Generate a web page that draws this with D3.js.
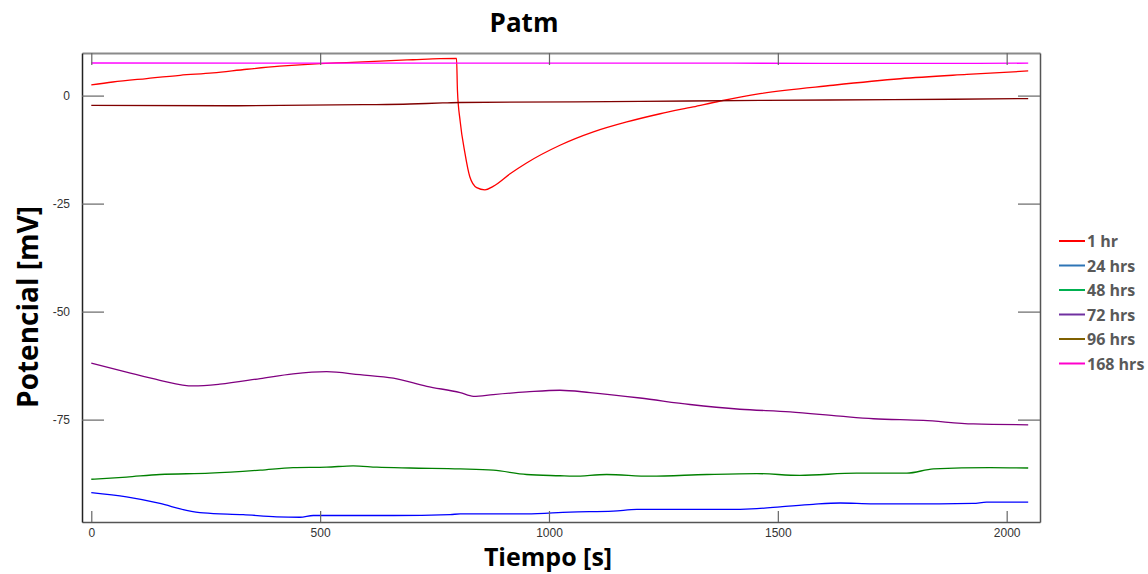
<!DOCTYPE html>
<html>
<head>
<meta charset="utf-8">
<script src="https://cdn.jsdelivr.net/npm/d3@7"></script>
<style>
  body { margin: 0; background: #fff; }
  svg { display: block; }
</style>
</head>
<body>
<div id="chart"></div>
<script>
// series: [tiempo (s), potencial (mV)]
const hr1 = [[0,2.5],[47,3.15],[121,3.95],[194,4.7],[266,5.25],[340,6.1],[412,6.8],[500,7.4],[558,7.65],
  [631,8.0],[703,8.3],[762,8.55],[798,8.6],[800,1.2],[806,-6],[816,-13.1],[827,-18.8],[842,-21.3],
  [860,-21.8],[878,-21.0],[915,-18.1],[951,-15.6],[1024,-11.5],[1097,-8.4],[1170,-6.1],[1243,-4.2],
  [1315,-2.6],[1374,-1.25],[1461,0.45],[1621,2.4],[1767,3.9],[1913,4.9],[2047,5.7]];
const hrs24 = [[0,-91.9],[77,-92.9],[150,-94.4],[208,-96.0],[245,-96.6],[332,-97.0],[405,-97.5],[456,-97.6],
  [485,-97.2],[660,-97.2],[784,-97.0],[806,-96.8],[951,-96.8],[1046,-96.4],[1140,-96.2],[1192,-95.8],
  [1381,-95.8],[1454,-95.6],[1505,-95.2],[1577,-94.6],[1636,-94.3],[1709,-94.5],[1854,-94.5],
  [1927,-94.4],[1956,-94.1],[2047,-94.1]];
const hrs48 = [[0,-88.8],[77,-88.3],[150,-87.7],[259,-87.4],[369,-86.7],[441,-86.1],[514,-86.0],[572,-85.7],
  [624,-86.0],[696,-86.2],[806,-86.4],[878,-86.7],[951,-87.7],[1024,-88.0],[1053,-88.1],[1126,-87.7],
  [1221,-88.1],[1345,-87.7],[1454,-87.5],[1548,-87.9],[1672,-87.4],[1782,-87.4],[1840,-86.4],
  [1963,-86.1],[2047,-86.2]];
const hrs72 = [[0,-61.9],[77,-64.0],[150,-65.9],[223,-67.2],[281,-66.8],[369,-65.5],[441,-64.4],[514,-63.9],
  [587,-64.6],[660,-65.4],[733,-67.3],[806,-68.75],[835,-69.6],[878,-69.2],[951,-68.6],[1024,-68.2],
  [1090,-68.75],[1199,-70.0],[1308,-71.5],[1417,-72.6],[1527,-73.2],[1636,-74.2],[1709,-74.8],
  [1818,-75.2],[1927,-76.0],[2047,-76.2]];
const hrs96 = [[0,-2.25],[300,-2.35],[593,-2.1],[696,-1.95],[768,-1.7],[806,-1.6],[1200,-1.35],
  [1461,-1.1],[1750,-0.95],[2047,-0.7]];
const hrs168 = [[0,7.55],[800,7.5],[1400,7.5],[1800,7.45],[2047,7.5]];

const seriesNames = ["1 hr", "24 hrs", "48 hrs", "72 hrs", "96 hrs", "168 hrs"];
const seriesData = [hr1, hrs24, hrs48, hrs72, hrs96, hrs168];
const lineColors = ["#ff0000", "#0000ff", "#008000", "#800080", "#800000", "#ff00ff"];
const legendColors = ["#ff0000", "#2e75b6", "#00b050", "#7030a0", "#7f6000", "#ff00cc"];
const xTicks = [0, 500, 1000, 1500, 2000];
const yTicks = [0, -25, -50, -75];

const W = 1148, H = 574;
const margin = {top: 53, right: 108, bottom: 52, left: 82};
const width = W - margin.left - margin.right;
const height = H - margin.top - margin.bottom;

const svg = d3.select("#chart")
    .append("svg")
    .attr("width", W)
    .attr("height", H);

const g = svg.append("g")
    .attr("transform", `translate(${margin.left},${margin.top})`);

const x = d3.scaleLinear().domain([-20.3, 2072.8]).range([0, width]);
const y = d3.scaleLinear().domain([-98.7, 9.86]).range([height, 0]);

// lines first, frame on top
const line = d3.line()
    .x(d => x(d[0]))
    .y(d => y(d[1]))
    .curve(d3.curveMonotoneX);

g.selectAll(".serie")
    .data(seriesData)
    .join("path")
    .attr("class", "serie")
    .attr("fill", "none")
    .attr("stroke", (d, i) => lineColors[i])
    .attr("stroke-width", 1.3)
    .attr("d", line);

// axes with inner ticks
const plain = d => String(d);
const xAxisB = g.append("g")
    .attr("transform", `translate(0,${height})`)
    .call(d3.axisBottom(x).tickValues(xTicks).tickSizeInner(-11).tickSizeOuter(0).tickPadding(6).tickFormat(plain));
const xAxisT = g.append("g")
    .call(d3.axisTop(x).tickValues(xTicks).tickSizeInner(-12).tickSizeOuter(0).tickFormat(""));
const yAxisL = g.append("g")
    .call(d3.axisLeft(y).tickValues(yTicks).tickSizeInner(-22).tickSizeOuter(0).tickPadding(12).tickFormat(plain));
const yAxisR = g.append("g")
    .attr("transform", `translate(${width},0)`)
    .call(d3.axisRight(y).tickValues(yTicks).tickSizeInner(-22).tickSizeOuter(0).tickFormat(""));

[xAxisB, xAxisT, yAxisL, yAxisR].forEach(a => {
    a.selectAll(".tick line").attr("stroke", "#666").attr("stroke-width", 1.2);
    a.selectAll(".tick text")
        .style("font-family", "'Liberation Sans', Arial, sans-serif")
        .style("font-size", "12px")
        .attr("fill", "#333");
});
xAxisB.select(".domain").attr("stroke", "#555").attr("stroke-width", 1.5);
xAxisT.select(".domain").attr("stroke", "#8a8a8a").attr("stroke-width", 2.2);
yAxisL.select(".domain").attr("stroke", "#222").attr("stroke-width", 1.5);
yAxisR.select(".domain").attr("stroke", "#555").attr("stroke-width", 1.5);

// titles
svg.append("text")
    .attr("x", 524)
    .attr("y", 32)
    .attr("text-anchor", "middle")
    .style("font-family", "'Open Sans', sans-serif")
    .style("font-weight", "bold")
    .style("font-size", "26px")
    .text("Patm");

svg.append("text")
    .attr("x", 548)
    .attr("y", 566)
    .attr("text-anchor", "middle")
    .style("font-family", "'Open Sans', sans-serif")
    .style("font-weight", "bold")
    .style("font-size", "25px")
    .text("Tiempo [s]");

svg.append("text")
    .attr("transform", "translate(38,307) rotate(-90)")
    .attr("text-anchor", "middle")
    .style("font-family", "'Open Sans', sans-serif")
    .style("font-weight", "bold")
    .style("font-size", "28px")
    .text("Potencial [mV]");

// legend
const legend = svg.append("g")
    .attr("transform", "translate(1059,241)");

const item = legend.selectAll(".item")
    .data(seriesNames)
    .join("g")
    .attr("class", "item")
    .attr("transform", (d, i) => `translate(0,${i * 24.5})`);

item.append("line")
    .attr("x1", 0).attr("x2", 26)
    .attr("stroke", (d, i) => legendColors[i])
    .attr("stroke-width", 2);

item.append("text")
    .attr("x", 28)
    .attr("y", 6)
    .style("font-family", "'Open Sans', sans-serif")
    .style("font-weight", "bold")
    .style("font-size", "16px")
    .attr("fill", "#595959")
    .text(d => d);
</script>
</body>
</html>
